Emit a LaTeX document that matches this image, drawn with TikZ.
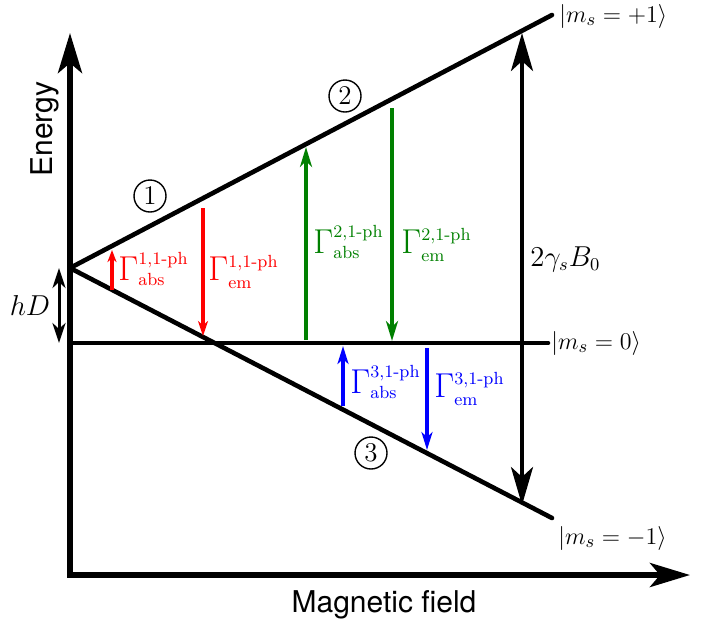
\documentclass[tikz,border=0pt]{standalone}
\usepackage{amsmath}
\usepackage{fontspec}
\newfontfamily\axisfont{TeX Gyre Heros}
\usetikzlibrary{arrows.meta}
\DeclareMathSizes{18}{18}{8.8}{6}
\DeclareMathSizes{13}{13}{9.2}{7}
\DeclareMathSizes{13.5}{13.5}{9.5}{7}
\definecolor{dgreen}{RGB}{0,128,0}
\tikzset{
  bigtip/.tip={Stealth[length=20pt,width=12pt,inset=5pt]},
  axisline/.style={line width=2.8pt, line join=miter},
  level/.style={line width=2.3pt, line cap=round},
  gap/.style={line width=2pt, {Stealth[length=19pt,width=11pt,inset=5pt]}-{Stealth[length=19pt,width=11pt,inset=5pt]}},
  hdarrow/.style={line width=1.5pt, {Stealth[length=10pt,width=6.5pt,inset=3pt]}-{Stealth[length=10pt,width=6.5pt,inset=3pt]}},
  redsmall/.style={red, line width=1.6pt, -{Stealth[length=6pt,width=4.5pt,inset=1.8pt]}},
  redbig/.style={red, line width=2.1pt, -{Stealth[length=7.5pt,width=5pt,inset=2.2pt]}},
  greenarr/.style={dgreen, line width=2.1pt, -{Stealth[length=10pt,width=6pt,inset=3pt]}},
  bluearr/.style={blue, line width=2.1pt, -{Stealth[length=9pt,width=5.5pt,inset=2.6pt]}},
  gam/.style={anchor=base west, inner sep=0pt, font=\fontsize{18}{21}\selectfont},
  state/.style={anchor=west, inner sep=0pt, font=\fontsize{13}{16}\selectfont},
  mlabel/.style={inner sep=0pt, font=\fontsize{13.5}{16}\selectfont},
  circnum/.style={circle, draw, line width=0.7pt, minimum size=16pt, inner sep=0pt, font=\fontsize{13.5}{15}\selectfont},
  axlabel/.style={inner sep=0pt, font=\axisfont\fontsize{15}{18}\selectfont}
}
\begin{document}
\begin{tikzpicture}[x=0.5pt,y=-0.5pt]
\useasboundingbox (0,0) rectangle (710,623);
% key points
\coordinate (ytop) at (70,33);
\coordinate (orig) at (70,575);
\coordinate (xend) at (690,575);
\coordinate (O) at (70,268);
\coordinate (Up) at (552,15);
\coordinate (Dn) at (552,518);
\coordinate (Z0) at (70,343);
\coordinate (Z1) at (548,343);
% axes
\draw[axisline, bigtip-bigtip] (ytop) -- (orig) -- (xend);
% levels
\draw[level] (O) -- (Up);
\draw[level] (O) -- (Dn);
\draw[level] (Z0) -- (Z1);
% hD
\coordinate (hdA) at (59,268);
\coordinate (hdB) at (59,343);
\draw[hdarrow] (hdA) -- (hdB);
\node[mlabel, anchor=base] (hD) at (30,315) {$hD$};
% splitting
\coordinate (gA) at (522,33);
\coordinate (gB) at (522,505);
\draw[gap] (gA) -- (gB);
\node[mlabel, anchor=base west] (gs) at (530,266) {$2\gamma_s B_0$};
% red transitions
\coordinate (r1a) at (112,290);
\coordinate (r1b) at (112,250);
\draw[redsmall] (r1a) -- (r1b);
\coordinate (r2a) at (203,208);
\coordinate (r2b) at (203,336);
\draw[redbig] (r2a) -- (r2b);
\node[gam, red] (rabs) at (118,280) {$\Gamma^{\text{1,1-ph}}_{\text{abs}}$};
\node[gam, red] (rem) at (208,280) {$\Gamma^{\text{1,1-ph}}_{\text{em}}$};
% green transitions
\coordinate (g1a) at (306,340);
\coordinate (g1b) at (306,147);
\draw[greenarr] (g1a) -- (g1b);
\coordinate (g2a) at (392,108);
\coordinate (g2b) at (392,341);
\draw[greenarr] (g2a) -- (g2b);
\node[gam, dgreen] (gabs) at (313,253) {$\Gamma^{\text{2,1-ph}}_{\text{abs}}$};
\node[gam, dgreen] (gem) at (401,253) {$\Gamma^{\text{2,1-ph}}_{\text{em}}$};
% blue transitions
\coordinate (b1a) at (343,406);
\coordinate (b1b) at (343,346);
\draw[bluearr] (b1a) -- (b1b);
\coordinate (b2a) at (427,348);
\coordinate (b2b) at (427,450);
\draw[bluearr] (b2a) -- (b2b);
\node[gam, blue] (babs) at (350,393) {$\Gamma^{\text{3,1-ph}}_{\text{abs}}$};
\node[gam, blue] (bem) at (434,397) {$\Gamma^{\text{3,1-ph}}_{\text{em}}$};
% circled numbers
\node[circnum] (c1) at (150,196) {1};
\node[circnum] (c2) at (345,96) {2};
\node[circnum] (c3) at (371,453) {3};
% state labels
\node[state] (sp) at (559,16) {$|m_s=+1\rangle$};
\node[state] (s0) at (551,343) {$|m_s=0\rangle$};
\node[state] (sm) at (558,538) {$|m_s=-1\rangle$};
% axis labels
\node[axlabel, rotate=90, anchor=base] (en) at (52,129) {Energy};
\node[axlabel, anchor=base] (mf) at (384,612) {Magnetic field};
\end{tikzpicture}
\end{document}
